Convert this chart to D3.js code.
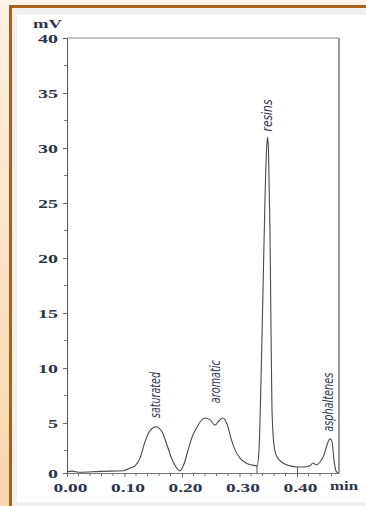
<!DOCTYPE html>
<html><head><meta charset="utf-8">
<script src="https://cdn.jsdelivr.net/npm/d3@7"></script>
<style>html,body{margin:0;padding:0;width:366px;height:506px;overflow:hidden;background:#fdf3ea}</style>
</head><body><svg id="c" width="366" height="506"></svg>
<script>
// ---- data (time in min, signal in mV) ----
const times = [0, 0.0087, 0.0226, 0.0574, 0.0991, 0.1096, 0.1183, 0.127, 0.1357, 0.1443, 0.1548, 0.1652, 0.1739, 0.1826, 0.1896, 0.1965, 0.2035, 0.2104, 0.2174, 0.2261, 0.233, 0.24, 0.2487, 0.2574, 0.2643, 0.2713, 0.2783, 0.2852, 0.2922, 0.3009, 0.3113, 0.3217, 0.3304, 0.3339, 0.3374, 0.3409, 0.3443, 0.347, 0.3487, 0.3504, 0.353, 0.3548, 0.3565, 0.36, 0.3652, 0.3757, 0.3878, 0.4017, 0.4139, 0.4226, 0.4278, 0.433, 0.44, 0.447, 0.4522, 0.4574, 0.4609, 0.4643, 0.4678, 0.4713];
const signal = [0.55, 0.62, 0.52, 0.6, 0.66, 0.9, 1.1, 1.8, 3.3, 4.3, 4.65, 4.2, 3.0, 1.7, 1.0, 0.64, 1.27, 2.5, 3.7, 4.6, 5.2, 5.45, 5.3, 4.8, 5.2, 5.45, 4.9, 3.6, 2.55, 1.8, 1.36, 1.18, 1.1, 2.5, 8.9, 17.1, 25.3, 29.8, 31.0, 29.8, 22.5, 13.5, 6.2, 3.0, 1.9, 1.36, 1.1, 1.0, 1.0, 1.1, 1.36, 1.18, 1.45, 2.1, 3.0, 3.55, 3.3, 1.64, 0.64, 0.45];
const peakNames = ["saturated", "aromatic", "resins", "asphaltenes"];
const peakTimes = [0.153, 0.257, 0.348, 0.454];
const peakLabelAt = [5.45, 6.8, 31.5, 4.2];
const markerTimes = [0.3304, 0.401];
const yTickValues = [0, 5, 10, 15, 20, 25, 30, 35, 40];
const xTickValues = [0.0, 0.1, 0.2, 0.3, 0.4];
const xTickLabels = ["0.00", "0.10", "0.20", "0.30", "0.40"];
const yUnit = "mV", xUnit = "min";

const svg = d3.select("#c");
// background frame
const defs = svg.append("defs");
const g1 = defs.append("linearGradient").attr("id","lg").attr("x1",0).attr("y1",0).attr("x2",0).attr("y2",1);
g1.append("stop").attr("offset","0%").attr("stop-color","#fdf1e4");
g1.append("stop").attr("offset","100%").attr("stop-color","#f8d5ab");
svg.append("rect").attr("x",0).attr("y",0).attr("width",366).attr("height",506).attr("fill","#fdf3ea");
svg.append("rect").attr("x",0).attr("y",5).attr("width",10).attr("height",501).attr("fill","url(#lg)");
svg.append("rect").attr("x",9).attr("y",5).attr("width",357).attr("height",3).attr("fill","#a8611a");
svg.append("rect").attr("x",9).attr("y",5).attr("width",3).attr("height",501).attr("fill","#a8611a");
svg.append("rect").attr("x",12).attr("y",8).attr("width",354).attr("height",498).attr("fill","#f0f0f0");
svg.append("rect").attr("x",17).attr("y",15).attr("width",349).attr("height",487).attr("fill","#ffffff");

const L = 67, R = 339, T = 38, B = 473;
const yMin = 0.45;
const x = d3.scaleLinear().domain([0, (R - L) / 575]).range([L, R]);
const y = d3.scaleLinear().domain([yMin, 40]).range([B, T]);

const labelColor = "#2e3548";
const serif = "'Liberation Serif','Times New Roman',serif";

// frame
svg.append("line").attr("x1",L).attr("x2",R).attr("y1",T).attr("y2",T).attr("stroke","#8a8a8a").attr("stroke-width",1);
svg.append("line").attr("x1",R).attr("x2",R).attr("y1",T).attr("y2",B).attr("stroke","#9a9a9a").attr("stroke-width",2);

// y axis
const yAxis = d3.axisLeft(y)
  .tickValues(yTickValues.map(v => v === 0 ? yMin : v))
  .tickFormat(v => v === yMin ? "0" : String(v))
  .tickSizeInner(4).tickSizeOuter(0).tickPadding(5);
const gy = svg.append("g").attr("transform",`translate(${L},0)`).call(yAxis);
gy.select(".domain").attr("stroke","#555");
gy.selectAll(".tick line").attr("stroke","#666");
gy.selectAll(".tick text").attr("font-family",serif).attr("font-size",13).attr("font-weight","bold")
  .attr("fill",labelColor)
  .attr("textLength", function(){ return this.textContent.length * 10; })
  .attr("lengthAdjust","spacingAndGlyphs");
// minor y ticks
const yMinor = d3.range(2.5, 40, 5);
svg.append("g").selectAll("line").data(yMinor).join("line")
  .attr("x1",L-3).attr("x2",L).attr("y1",d=>y(d)).attr("y2",d=>y(d)).attr("stroke","#777");

// x axis
const xAxis = d3.axisBottom(x).tickValues(xTickValues)
  .tickFormat((d,i) => xTickLabels[i]).tickSizeInner(4).tickSizeOuter(0).tickPadding(6);
const gx = svg.append("g").attr("transform",`translate(0,${B})`).call(xAxis);
gx.select(".domain").attr("stroke","#777");
gx.selectAll(".tick line").attr("stroke","#666");
gx.selectAll(".tick text").attr("font-family",serif).attr("font-size",13).attr("font-weight","bold")
  .attr("fill",labelColor).attr("dx",3)
  .attr("textLength",34).attr("lengthAdjust","spacingAndGlyphs");
const xMinor = d3.range(0.02, 0.47, 0.02).filter(v => Math.abs(v*10 - Math.round(v*10)) > 1e-6);
svg.append("g").selectAll("line").data(xMinor).join("line")
  .attr("x1",d=>x(d)).attr("x2",d=>x(d)).attr("y1",B).attr("y2",B+3).attr("stroke","#777");

// unit labels
svg.append("text").attr("x",33).attr("y",27.5).text(yUnit)
  .attr("font-family",serif).attr("font-size",13).attr("font-weight","bold").attr("fill",labelColor)
  .attr("textLength",29).attr("lengthAdjust","spacingAndGlyphs");
svg.append("text").attr("x",330).attr("y",490).text(xUnit)
  .attr("font-family",serif).attr("font-size",13).attr("font-weight","bold").attr("fill",labelColor)
  .attr("textLength",28).attr("lengthAdjust","spacingAndGlyphs");

// integration markers (height taken from the signal at that time)
const interp = t => { const i = d3.bisectLeft(times, t); if (i <= 0) return signal[0];
  const f = (t - times[i-1]) / (times[i] - times[i-1]); return signal[i-1] + f * (signal[i] - signal[i-1]); };
svg.append("g").selectAll("line").data(markerTimes).join("line")
  .attr("x1",d=>x(d)).attr("x2",d=>x(d))
  .attr("y1",d=>y(interp(d))).attr("y2",B)
  .attr("stroke","#555").attr("stroke-width",1);

// signal
const pts = times.map((t,i)=>[t, signal[i]]);
const line = d3.line().x(d=>x(d[0])).y(d=>y(d[1])).curve(d3.curveMonotoneX);
svg.append("path").datum(pts).attr("d",line).attr("fill","none")
  .attr("stroke","#4a4a4a").attr("stroke-width",1.1);

// peak labels
const lens = [46, 43, 32, 59];
svg.append("g").selectAll("text").data(peakNames).join("text")
  .attr("transform",(d,i)=>`translate(${x(peakTimes[i]) + 5},${y(peakLabelAt[i])}) rotate(-90)`)
  .attr("font-family","'Liberation Sans Narrow','DejaVu Sans Condensed','Arial Narrow',sans-serif")
  .attr("font-style","italic").attr("font-size",14).attr("fill","#2f3650")
  .attr("textLength",(d,i)=>lens[i]).attr("lengthAdjust","spacingAndGlyphs")
  .text(d=>d);
</script></body></html>
